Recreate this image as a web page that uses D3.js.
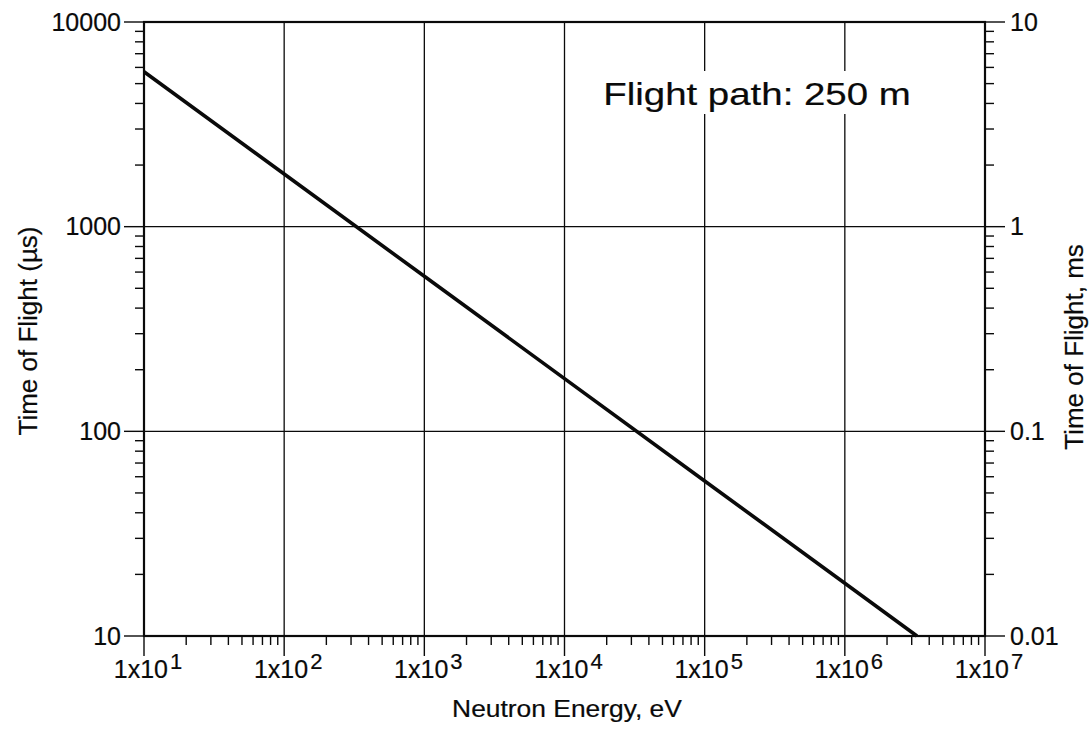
<!DOCTYPE html>
<html>
<head>
<meta charset="utf-8">
<script src="https://cdn.jsdelivr.net/npm/d3@7"></script>
<style>
  html, body { margin: 0; padding: 0; background: #fff; }
  svg { display: block; font-family: "Liberation Sans", Arial, Helvetica, sans-serif; }
  svg text { stroke: #0a0a0a; stroke-width: 0.2px; }
</style>
</head>
<body>
<svg id="chart" width="1090" height="729"></svg>
<script>
// Neutron time of flight over a 250 m flight path
const energyEV = [1e1, 1e2, 1e3, 1e4, 1e5, 1e6, 3.27e6];
const tofMicroseconds = [5716, 1808, 572, 181, 57.2, 18.1, 10];

// Axis tick values and labels
const xDecadeExponents = [1, 2, 3, 4, 5, 6, 7];
const yLeftTicks = [10, 100, 1000, 10000];
const yLeftLabels = ["10", "100", "1000", "10000"];
const yRightLabels = ["0.01", "0.1", "1", "10"];

const annotation = "Flight path: 250 m";
const xTitle = "Neutron Energy, eV";
const yLeftTitle = "Time of Flight (\u00b5s)";
const yRightTitle = "Time of Flight, ms";

const svg = d3.select("#chart");
const m = { left: 144, right: 985, top: 22, bottom: 636 };

const x = d3.scaleLog().domain([1e1, 1e7]).range([m.left, m.right]);
const y = d3.scaleLog().domain([10, 10000]).range([m.bottom, m.top]);
const yMs = d3.scaleLog().domain([0.01, 10]).range([m.bottom, m.top]);

// minor ticks: 2..9 within each decade
function minorTicks(lo, hi) {
  const out = [];
  for (let d = lo; d < hi; d *= 10)
    for (let k = 2; k <= 9; k++) out.push(d * k);
  return out;
}
const xMinor = minorTicks(1e1, 1e7);
const yMinor = minorTicks(10, 10000);
const xMajor = xDecadeExponents.map(e => Math.pow(10, e));

const ink = "#0a0a0a";

// grid lines at each decade
const grid = svg.append("g").attr("stroke", ink).attr("stroke-width", 1.3);
grid.selectAll("line.vx").data(xMajor.slice(1, -1)).join("line")
  .attr("x1", d => x(d)).attr("x2", d => x(d))
  .attr("y1", m.top).attr("y2", m.bottom);
grid.selectAll("line.hy").data(yLeftTicks.slice(1, -1)).join("line")
  .attr("y1", d => y(d)).attr("y2", d => y(d))
  .attr("x1", m.left).attr("x2", m.right);

// curve
const line = d3.line().x((d, i) => x(energyEV[i])).y(d => y(d));
svg.append("path")
  .datum(tofMicroseconds)
  .attr("d", line)
  .attr("fill", "none")
  .attr("stroke", ink)
  .attr("stroke-width", 3.6);

// annotation on a white backing box (wide lettering)
svg.append("rect")
  .attr("x", 598).attr("y", 71)
  .attr("width", 318).attr("height", 43)
  .attr("fill", "#fff");
svg.append("text")
  .attr("transform", "translate(757,105) scale(1.24,1)")
  .attr("text-anchor", "middle")
  .attr("font-size", 31)
  .attr("fill", ink)
  .text(annotation);

// frame
svg.append("rect")
  .attr("x", m.left).attr("y", m.top)
  .attr("width", m.right - m.left).attr("height", m.bottom - m.top)
  .attr("fill", "none").attr("stroke", ink).attr("stroke-width", 2.2);

const majorLen = 20, minorLen = 9;
const ticks = svg.append("g").attr("stroke", ink).attr("stroke-width", 1.4);

// left axis ticks (outward)
ticks.selectAll("line.lmin").data(yMinor).join("line")
  .attr("x1", m.left).attr("x2", m.left - minorLen)
  .attr("y1", d => y(d)).attr("y2", d => y(d));
ticks.selectAll("line.lmaj").data(yLeftTicks).join("line")
  .attr("x1", m.left).attr("x2", m.left - majorLen)
  .attr("y1", d => y(d)).attr("y2", d => y(d));
// right axis ticks
ticks.selectAll("line.rmin").data(yMinor).join("line")
  .attr("x1", m.right).attr("x2", m.right + minorLen)
  .attr("y1", d => y(d)).attr("y2", d => y(d));
ticks.selectAll("line.rmaj").data(yLeftTicks).join("line")
  .attr("x1", m.right).attr("x2", m.right + majorLen)
  .attr("y1", d => y(d)).attr("y2", d => y(d));
// bottom axis ticks
ticks.selectAll("line.bmin").data(xMinor).join("line")
  .attr("y1", m.bottom).attr("y2", m.bottom + minorLen)
  .attr("x1", d => x(d)).attr("x2", d => x(d));
ticks.selectAll("line.bmaj").data(xMajor).join("line")
  .attr("y1", m.bottom).attr("y2", m.bottom + majorLen)
  .attr("x1", d => x(d)).attr("x2", d => x(d));

const labelSize = 25;
// left labels
svg.append("g").selectAll("text").data(yLeftTicks).join("text")
  .attr("x", m.left - 23)
  .attr("y", d => y(d))
  .attr("dy", "0.35em")
  .attr("text-anchor", "end")
  .attr("font-size", labelSize)
  .attr("fill", ink)
  .text((d, i) => yLeftLabels[i]);
// right labels
svg.append("g").selectAll("text").data(yLeftTicks).join("text")
  .attr("x", m.right + 25)
  .attr("y", d => yMs(d / 1000))
  .attr("dy", "0.35em")
  .attr("text-anchor", "start")
  .attr("font-size", labelSize)
  .attr("fill", ink)
  .text((d, i) => yRightLabels[i]);
// bottom labels: 1x10 with superscript exponent
const bl = svg.append("g").selectAll("text").data(xDecadeExponents).join("text")
  .attr("x", d => x(Math.pow(10, d)) + 4)
  .attr("y", m.bottom + 42)
  .attr("text-anchor", "middle")
  .attr("font-size", labelSize)
  .attr("fill", ink);
bl.append("tspan").text("1x10");
bl.append("tspan").attr("dx", 2).attr("dy", -9).attr("font-size", 22).text(d => d);

// axis titles
svg.append("text")
  .attr("transform", "translate(567,717) scale(1.1,1)")
  .attr("text-anchor", "middle")
  .attr("font-size", 24).attr("fill", ink)
  .text(xTitle);
svg.append("text")
  .attr("transform", `translate(37,${(m.top + m.bottom) / 2 + 2}) rotate(-90)`)
  .attr("text-anchor", "middle")
  .attr("font-size", 26).attr("fill", ink)
  .text(yLeftTitle);
svg.append("text")
  .attr("transform", `translate(1083,${(m.top + m.bottom) / 2 + 18}) rotate(-90)`)
  .attr("text-anchor", "middle")
  .attr("font-size", 26).attr("fill", ink)
  .text(yRightTitle);
</script>
</body>
</html>
